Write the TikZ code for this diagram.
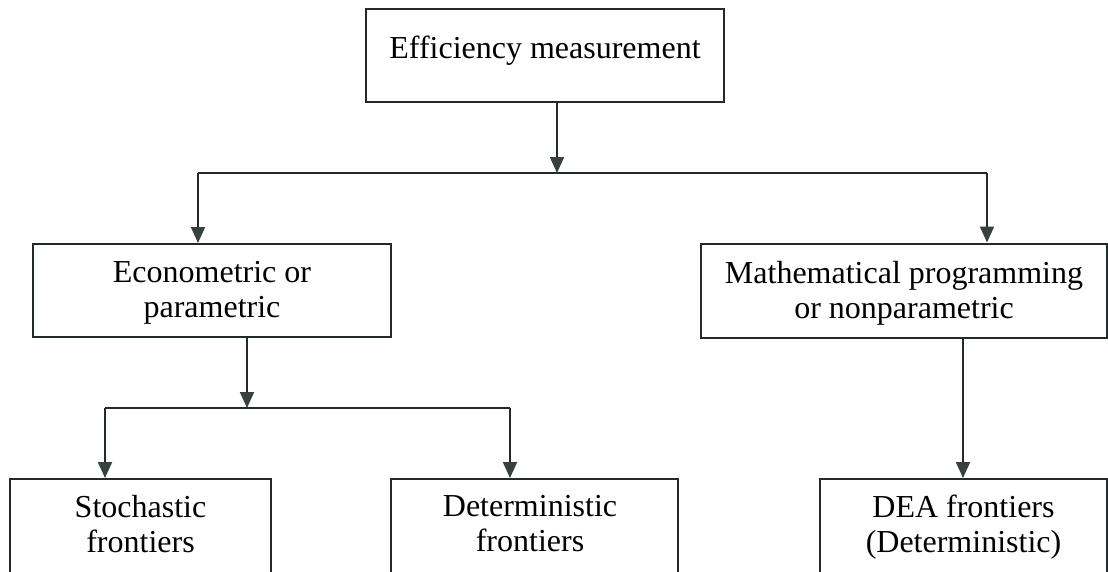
\documentclass[tikz,border=0pt]{standalone}
\usepackage{fontspec}
\setmainfont{Liberation Serif}
\usetikzlibrary{arrows.meta}
\definecolor{ln}{RGB}{34,42,42}
\definecolor{tipc}{RGB}{55,66,64}
\begin{document}
\begin{tikzpicture}[x=1pt,y=-1pt,
  box/.style={draw=ln, line width=2pt, inner sep=0pt},
  lbl/.style={font=\fontsize{32}{35}\selectfont, align=center, inner sep=0pt, anchor=north, text=black},
  conn/.style={draw=ln, line width=2pt},
  arr/.style={conn, -{Triangle[width=14pt,length=16pt,color=tipc]}}]
\useasboundingbox (0,0) rectangle (1108,571);
\clip (0,0) rectangle (1108,571);
% boxes
\node[box, minimum width=358pt, minimum height=93pt] (topbox) at (545,55.5) {};
\node[box, minimum width=358pt, minimum height=93pt] (econ) at (212,290.5) {};
\node[box, minimum width=406pt, minimum height=94pt] (math) at (904,290.5) {};
\node[box, minimum width=261pt, minimum height=121pt] (stoch) at (140.5,539.5) {};
\node[box, minimum width=287pt, minimum height=121pt] (det) at (534.5,539.5) {};
\node[box, minimum width=287pt, minimum height=121pt] (dea) at (963.5,539.5) {};
% labels
\node[lbl] (ltop) at (545,36) {Efficiency measurement};
\node[lbl] (lecon) at (212,261) {Econometric or\\parametric};
\node[lbl] (lmath) at (904,261) {Mathematical programming\\or nonparametric};
\node[lbl] (lstoch) at (140.5,495) {Stochastic\\frontiers};
\node[lbl] (ldet) at (530,495) {Deterministic\\frontiers};
\node[lbl] (ldea) at (963.5,495) {DEA frontiers\\(Deterministic)};
% junction coordinates
\coordinate (j1) at (557,173);
\coordinate (bl) at (198,173);
\coordinate (br) at (987,173);
\coordinate (j2) at (247,408);
\coordinate (cl) at (105,408);
\coordinate (cr) at (510,408);
\coordinate (j3) at (963,408);
% connectors
\draw[arr] (j1 |- topbox.south) -- (j1);
\draw[conn] (bl) -- (br);
\draw[arr] (bl) -- (bl |- econ.north);
\draw[arr] (br) -- (br |- math.north);
\draw[arr] (j2 |- econ.south) -- (j2);
\draw[conn] (cl) -- (cr);
\draw[arr] (cl) -- (cl |- stoch.north);
\draw[arr] (cr) -- (cr |- det.north);
\draw[arr] (j3 |- math.south) -- (j3 |- dea.north);
\end{tikzpicture}
\end{document}
